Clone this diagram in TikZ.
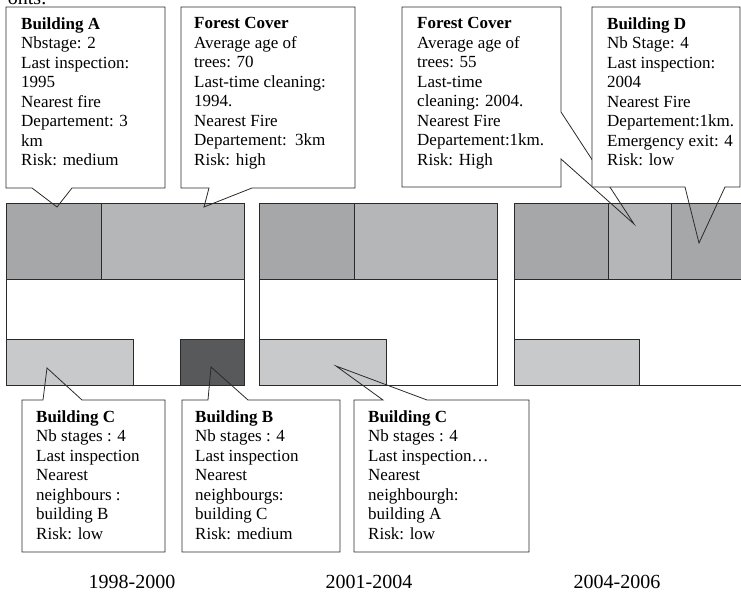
\documentclass[tikz,border=0pt]{standalone}
\usepackage{fontspec}
\setmainfont{Liberation Serif}
\definecolor{edge}{HTML}{2A2A2A}
\definecolor{darkband}{HTML}{A6A7A9}
\definecolor{lightband}{HTML}{B5B6B8}
\definecolor{lowbox}{HTML}{C8C9CB}
\definecolor{bldB}{HTML}{58595B}
\tikzset{
  panel/.style={draw=edge, line width=0.9pt, fill=white},
  cell/.style={draw=edge, line width=0.9pt},
  callout/.style={draw=edge, line width=0.8pt, line join=miter},
  ctext/.style={anchor=north west, inner sep=0pt, align=left, font=\fontsize{17}{19.5}\selectfont},
  year/.style={anchor=base, inner sep=0pt, font=\fontsize{20}{24}\selectfont}
}
\begin{document}
\begin{tikzpicture}[x=1pt,y=-1pt]
\useasboundingbox (0,0) rectangle (741,593);
\clip (0,0) rectangle (741,593);
% cut-off heading
\node[anchor=base east, inner sep=0pt, font=\fontsize{20}{24}\selectfont] (head) at (47,5) {onts:};
% panel 1998-2000
\draw[panel] (6,203) rectangle (244,385);
\draw[cell, fill=darkband] (6,203) rectangle (101,279);
\draw[cell, fill=lightband] (101,203) rectangle (244,279);
\draw[cell, fill=lowbox] (6,339) rectangle (133,385);
\draw[cell, fill=bldB] (180,339) rectangle (244,385);
% panel 2001-2004
\draw[panel] (259,203) rectangle (497,385);
\draw[cell, fill=darkband] (259,203) rectangle (354,279);
\draw[cell, fill=lightband] (354,203) rectangle (497,279);
\draw[cell, fill=lowbox] (259,339) rectangle (386,385);
% panel 2004-2006
\draw[panel] (514,203) rectangle (760,385);
\draw[cell, fill=darkband] (514,203) rectangle (608,279);
\draw[cell, fill=lightband] (608,203) rectangle (671,279);
\draw[cell, fill=darkband] (671,203) rectangle (760,279);
\draw[cell, fill=lowbox] (514,339) rectangle (639,385);
% top callouts
\fill[white] (6,7) rectangle (165,188);
\draw[callout] (6,7) -- (165,7) -- (165,188) -- (72,188) -- (57,207) -- (32,188) -- (6,188) -- cycle;
\node[ctext] (ta) at (21,17.5) {\textbf{Building A}\\Nbstage: 2\\Last inspection:\\1995\\Nearest fire\\Departement: 3\\km\\Risk: medium};
\fill[white] (181,7) rectangle (355,188);
\draw[callout] (181,7) -- (355,7) -- (355,188) -- (252,188) -- (204,207) -- (209,188) -- (181,188) -- cycle;
\node[ctext] (tf1) at (194,17.5) {\textbf{Forest Cover}\\Average age of\\trees: 70\\Last-time cleaning:\\1994.\\Nearest Fire\\Departement:~~3km\\Risk: high};
\fill[white] (402,7) rectangle (561,187);
\draw[callout] (402,7) -- (561,7) -- (561,112) -- (634,224) -- (561,159) -- (561,187) -- (402,187) -- cycle;
\node[ctext] (tf2) at (417,17.5) {\textbf{Forest Cover}\\Average age of\\trees: 55\\Last-time\\cleaning: 2004.\\Nearest Fire\\Departement:1km.\\Risk: High};
\fill[white] (592,7) rectangle (740,187);
\draw[callout] (592,7) -- (740,7) -- (740,187) -- (725,187) -- (699,243) -- (685,187) -- (592,187) -- cycle;
\node[ctext] (td) at (607,17.5) {\textbf{Building D}\\Nb Stage: 4\\Last inspection:\\2004\\Nearest Fire\\Departement:1km.\\Emergency exit: 4\\Risk: low};
% bottom callouts
\fill[white] (22,400) rectangle (165,552);
\draw[callout] (22,400) -- (43,400) -- (47,368) -- (82,400) -- (165,400) -- (165,552) -- (22,552) -- cycle;
\node[ctext] (bc1) at (36,410.5) {\textbf{Building C}\\Nb stages : 4\\Last inspection\\Nearest\\neighbours :\\building B\\Risk: low};
\fill[white] (182,400) rectangle (340,552);
\draw[callout] (182,400) -- (208,400) -- (211,367) -- (248,400) -- (340,400) -- (340,552) -- (182,552) -- cycle;
\node[ctext] (bb) at (195,410.5) {\textbf{Building B}\\Nb stages : 4\\Last inspection\\Nearest\\neighbourgs:\\building C\\Risk: medium};
\fill[white] (354,400) rectangle (529,552);
\draw[callout] (354,400) -- (383,400) -- (336,366) -- (427,400) -- (529,400) -- (529,552) -- (354,552) -- cycle;
\node[ctext] (bc2) at (368,410.5) {\textbf{Building C}\\Nb stages : 4\\Last inspection…\\Nearest\\neighbourgh:\\building A\\Risk: low};
% period labels
\node[year] (y1) at (132,588) {1998-2000};
\node[year] (y2) at (369,588) {2001-2004};
\node[year] (y3) at (617,588) {2004-2006};
\end{tikzpicture}
\end{document}
